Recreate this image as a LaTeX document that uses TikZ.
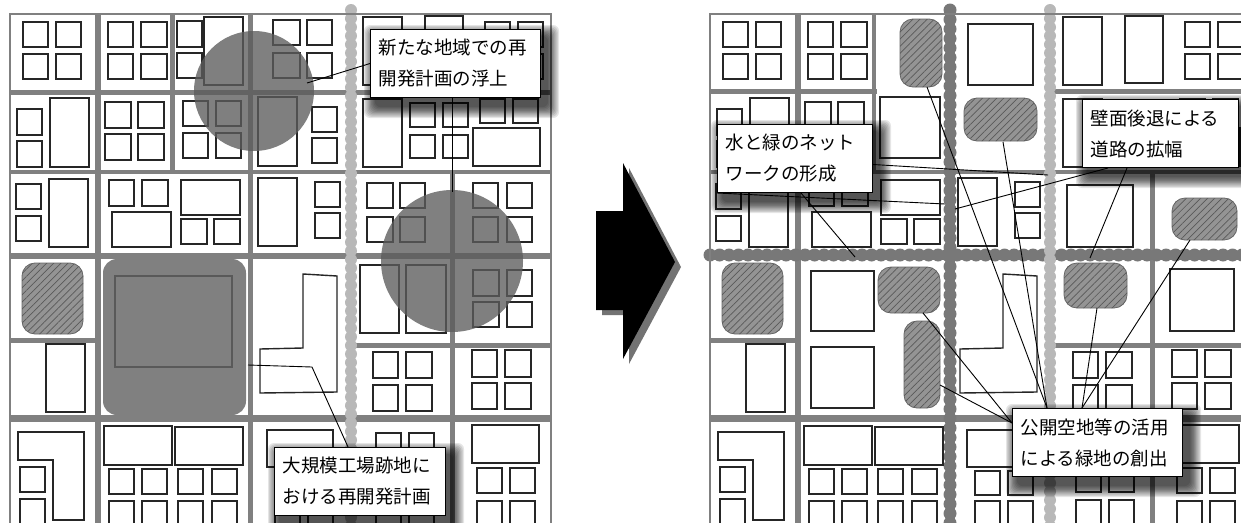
\documentclass[tikz,border=0pt]{standalone}
\usepackage{fontspec}
\setmainfont{Noto Sans CJK JP}
\usetikzlibrary{patterns.meta}
\pgfdeclarelayer{shad}
\pgfdeclarelayer{front}
\pgfsetlayers{main,shad,front}
\definecolor{roadc}{gray}{0.5}
\definecolor{waterc}{gray}{0.72}
\definecolor{greenc}{gray}{0.47}
\definecolor{blkc}{gray}{0.15}
\definecolor{darkc}{gray}{0.5}
\definecolor{circc}{gray}{0.36}
\definecolor{hatc}{gray}{0.58}
\tikzset{
 frame/.style={draw=black!50, line width=1.6pt},
 road/.style={draw=roadc, line width=5pt},
 blk/.style={draw=blkc, line width=1.4pt, fill=white},
 hat/.style={fill=hatc, draw=black!60, line width=0.8pt, rounded corners=13pt,
   postaction={pattern={Lines[angle=45,distance=5pt,line width=0.7pt]}, pattern color=black!65}},
 water/.style={draw=waterc, line width=6pt,
   postaction={draw=waterc, line width=12pt, line cap=round, dash pattern=on 0pt off 8.6pt}},
 greenroad/.style={draw=greenc, line width=9pt,
   postaction={draw=greenc, line width=13pt, line cap=round, dash pattern=on 0pt off 9.5pt}},
 lbl/.style={draw=black, line width=1pt, fill=white, anchor=north west, align=left,
   inner xsep=8pt, minimum height=68pt, font=\fontsize{18.5}{31}\selectfont},
 con/.style={draw=black, line width=0.9pt},
 circ/.style={fill=circc, opacity=0.78},
 arrowshape/.style={fill=black},
 arrowshadow/.style={fill=black!55}
}
\newcommand{\commonblocks}{%
\draw[blk] (23,22) rectangle (48,47); \draw[blk] (56,22) rectangle (81,47);
\draw[blk] (23,54) rectangle (48,79); \draw[blk] (56,54) rectangle (81,79);
\draw[blk] (108,22) rectangle (133,47); \draw[blk] (141,22) rectangle (167,47);
\draw[blk] (108,54) rectangle (133,79); \draw[blk] (141,54) rectangle (167,79);
\draw[blk] (363,17) rectangle (402,85); \draw[blk] (425,16) rectangle (463,83);
\draw[blk] (485,22) rectangle (510,47); \draw[blk] (518,22) rectangle (543,47);
\draw[blk] (485,54) rectangle (510,79); \draw[blk] (518,54) rectangle (543,79);
\draw[blk] (17,109) rectangle (42,135); \draw[blk] (17,141) rectangle (42,167);
\draw[blk] (50,98) rectangle (89,167);
\draw[blk] (105,102) rectangle (131,128); \draw[blk] (138,102) rectangle (164,128);
\draw[blk] (105,134) rectangle (131,160); \draw[blk] (138,134) rectangle (164,160);
\draw[blk] (363,99) rectangle (402,167);
\draw[blk] (410,103) rectangle (435,127); \draw[blk] (443,103) rectangle (468,127);
\draw[blk] (410,135) rectangle (435,158); \draw[blk] (443,135) rectangle (468,158);
\draw[blk] (480,99) rectangle (505,123); \draw[blk] (513,99) rectangle (538,123);
\draw[blk] (473,128) rectangle (540,166);
\draw[blk] (16,184) rectangle (41,209); \draw[blk] (16,216) rectangle (41,241);
\draw[blk] (49,179) rectangle (88,247);
\draw[blk] (109,180) rectangle (134,206); \draw[blk] (142,180) rectangle (168,206);
\draw[blk] (112,212) rectangle (171,247); \draw[blk] (181,180) rectangle (240,215);
\draw[blk] (181,219) rectangle (207,244); \draw[blk] (214,219) rectangle (240,244);
\draw[blk] (258,178) rectangle (297,246);
\draw[blk] (315,182) rectangle (340,207); \draw[blk] (315,213) rectangle (340,238);
\draw[hat] (22,263) rectangle (83,334);
\draw[blk] (46,344) rectangle (85,412);
\draw[blk] (303,274) -- (337,276) -- (337,392) -- (260,393) -- (260,349) -- (303,348) -- cycle;
\draw[blk] (373,352) rectangle (398,378); \draw[blk] (406,352) rectangle (432,378);
\draw[blk] (373,385) rectangle (398,411); \draw[blk] (406,385) rectangle (432,411);
\draw[blk] (472,350) rectangle (497,377); \draw[blk] (505,350) rectangle (531,377);
\draw[blk] (472,383) rectangle (497,409); \draw[blk] (505,383) rectangle (531,409);
\draw[blk] (18,432) -- (84,432) -- (84,520) -- (53,520) -- (53,460) -- (18,460) -- cycle;
\draw[blk] (20,467) rectangle (45,492); \draw[blk] (20,499) rectangle (45,524);
\draw[blk] (104,426) rectangle (172,465); \draw[blk] (175,427) rectangle (243,465);
\foreach \xx in {109,142,178,212} {\draw[blk] (\xx,469) rectangle (\xx+25,494); \draw[blk] (\xx,501) rectangle (\xx+25,526);}
\draw[blk] (267,430) rectangle (333,467);
\foreach \xx in {275,308} {\draw[blk] (\xx,471) rectangle (\xx+25,495); \draw[blk] (\xx,501) rectangle (\xx+25,526);}
\foreach \xx in {376,409} {\draw[blk] (\xx,433) rectangle (\xx+25,458); \draw[blk] (\xx,467) rectangle (\xx+25,492); \draw[blk] (\xx,500) rectangle (\xx+25,525);}
\draw[blk] (472,425) rectangle (539,463);
\foreach \xx in {477,510} {\draw[blk] (\xx,468) rectangle (\xx+25,493); \draw[blk] (\xx,501) rectangle (\xx+25,526);}
}
\begin{document}
\begin{tikzpicture}[x=1pt,y=-1pt]
\useasboundingbox (0,0) rectangle (1241,522);
\clip (0,0) rectangle (1241,522);
% ---------------- left panel ----------------
\draw[road, line width=6pt] (98,14) -- (98,530);
\draw[road, line width=4.5pt] (172.5,14) -- (172.5,172);
\draw[road] (250.5,14) -- (250.5,530);
\draw[road] (452,172) -- (452,530);
\draw[road] (10,92) -- (551,92);
\draw[road, line width=4pt] (10,172) -- (551,172);
\draw[road, line width=6pt] (10,255.5) -- (551,255.5);
\draw[road] (10,340.5) -- (98,340.5);
\draw[road] (351,345) -- (551,345);
\draw[road, line width=7pt] (10,418.5) -- (551,418.5);
\draw[water] (351,10) -- (351,530);
\draw[frame] (10,530) -- (10,14) -- (551,14) -- (551,530);
\commonblocks
\draw[blk] (177,21) rectangle (202,47); \draw[blk] (177,53) rectangle (202,78);
\draw[blk] (204,17) rectangle (243,85);
\draw[blk] (273,20) rectangle (300,45); \draw[blk] (307,20) rectangle (332,45);
\draw[blk] (273,53) rectangle (300,78); \draw[blk] (307,53) rectangle (332,78);
\draw[blk] (183,101) rectangle (208,126); \draw[blk] (216,101) rectangle (241,126);
\draw[blk] (183,133) rectangle (208,158); \draw[blk] (216,133) rectangle (241,158);
\draw[blk] (258,97) rectangle (297,166);
\draw[blk] (312,107) rectangle (337,132); \draw[blk] (312,138) rectangle (337,163);
\draw[blk] (367,183) rectangle (393,208); \draw[blk] (400,183) rectangle (425,208);
\draw[blk] (367,217) rectangle (393,242); \draw[blk] (400,217) rectangle (425,242);
\draw[blk] (473,183) rectangle (498,208); \draw[blk] (507,183) rectangle (532,208);
\draw[blk] (473,217) rectangle (498,242); \draw[blk] (507,217) rectangle (532,242);
\fill[darkc, rounded corners=14pt] (103,259) rectangle (246,415);
\draw[black!65, line width=1.2pt] (115,276) rectangle (232,367);
\draw[blk] (360,265) rectangle (399,333); \draw[blk] (406,265) rectangle (446,333);
\draw[blk] (473,270) rectangle (499,296); \draw[blk] (507,270) rectangle (532,296);
\draw[blk] (473,302) rectangle (499,327); \draw[blk] (507,302) rectangle (532,327);
\fill[circ] (254,91) circle (60);
\fill[circ] (452,261) circle (71);
% ---------------- arrow ----------------
\fill[arrowshadow] (602,216) -- (629,216) -- (629,168) -- (681,267) -- (629,364) -- (629,315) -- (602,315) -- cycle;
\fill[arrowshape] (596,211) -- (623,211) -- (623,163) -- (675,262) -- (623,359) -- (623,310) -- (596,310) -- cycle;
% ---------------- right panel ----------------
\begin{scope}[shift={(700,0)}]
\draw[road, line width=6pt] (98,14) -- (98,530);
\draw[road, line width=4.5pt] (174,14) -- (174,172);
\draw[road] (452,172) -- (452,530);
\draw[road] (10,91) -- (177,91);
\draw[road] (350,91) -- (560,91);
\draw[road, line width=4pt] (10,172) -- (560,172);
\draw[road] (10,340.5) -- (98,340.5);
\draw[road] (350,345) -- (560,345);
\draw[road, line width=7pt] (10,418.5) -- (560,418.5);
\draw[greenroad] (10,255) -- (560,255);
\draw[greenroad] (250,10) -- (250,530);
\draw[water] (350,10) -- (350,530);
\draw[frame] (10,530) -- (10,14) -- (560,14);
\commonblocks
\end{scope}
\draw[hat] (900,19) rectangle (942,87);
\draw[blk] (880,97) rectangle (940,158);
\draw[blk] (968,24) rectangle (1033,85);
\draw[hat] (964,98) rectangle (1037,141);
\draw[blk] (1067,185) rectangle (1133,247);
\draw[hat] (1172,198) rectangle (1237,240);
\draw[blk] (811,271) rectangle (874,331);
\draw[blk] (811,347) rectangle (874,408);
\draw[hat] (878,267) rectangle (940,313);
\draw[hat] (904,321) rectangle (940,408);
\draw[hat] (1064,263) rectangle (1127,308);
\draw[blk] (1170,269) rectangle (1234,331);
% ---------------- labels ----------------
\begin{pgfonlayer}{front}
\node[lbl, text width=154pt] (L1) at (370,29) {新たな地域での再\\開発計画の浮上};
\node[lbl, text width=155pt] (L2) at (274,447) {大規模工場跡地に\\おける再開発計画};
\node[lbl, text width=139pt] (L3) at (717,124) {水と緑のネット\\ワークの形成};
\node[lbl, text width=140pt] (L4) at (1082,99) {壁面後退による\\道路の拡幅};
\node[lbl, text width=154pt] (L5) at (1012,408) {公開空地等の活用\\による緑地の創出};
\end{pgfonlayer}
\begin{pgfonlayer}{shad}
\foreach \L in {L1,L2,L3,L4,L5}{
 \foreach \k in {0,...,9}{
  \fill[black, opacity=0.1, rounded corners=6pt] ([shift={(-6+1.2*\k,-4+1.2*\k)}]\L.north west) rectangle ([shift={(18-1.2*\k,20-1.2*\k)}]\L.south east);
 }}
\end{pgfonlayer}
% ---------------- connectors ----------------
\coordinate (c1) at (307,83);
\coordinate (c2) at (452,192);
\coordinate (d1) at (248,365);
\coordinate (d2) at (312,367);
\coordinate (w1) at (1048,175);
\coordinate (g1) at (945,204);
\coordinate (g2) at (855,257);
\coordinate (g3) at (955,209);
\coordinate (g4) at (1090,258);
\coordinate (o1) at (927,87);
\coordinate (o2) at (1003,142);
\coordinate (o3) at (923,313);
\coordinate (o4) at (940,385);
\coordinate (o5) at (1097,308);
\coordinate (o6) at (1190,240);
\draw[con] (L1.west) -- (c1);
\draw[con] (L1.south -| c2) -- (c2);
\draw[con] (d1) -- (d2) -- ([xshift=74pt]L2.north west);
\draw[con] ([yshift=-6pt]L3.east) -- (w1);
\draw[con] (L3.south west) -- (g1);
\draw[con] ([xshift=6pt]L3.south) -- (g2);
\draw[con] ([xshift=26pt]L4.south west) -- (g3);
\draw[con] ([xshift=45pt]L4.south west) -- (g4);
\draw[con] ([xshift=35pt]L5.north west) -- (o1);
\draw[con] ([xshift=35pt]L5.north west) -- (o2);
\draw[con] ([yshift=-15pt]L5.north west) -- (o3);
\draw[con] ([yshift=-15pt]L5.north west) -- (o4);
\draw[con] ([xshift=70pt]L5.north west) -- (o5);
\draw[con] ([xshift=70pt]L5.north west) -- (o6);
\end{tikzpicture}
\end{document}
